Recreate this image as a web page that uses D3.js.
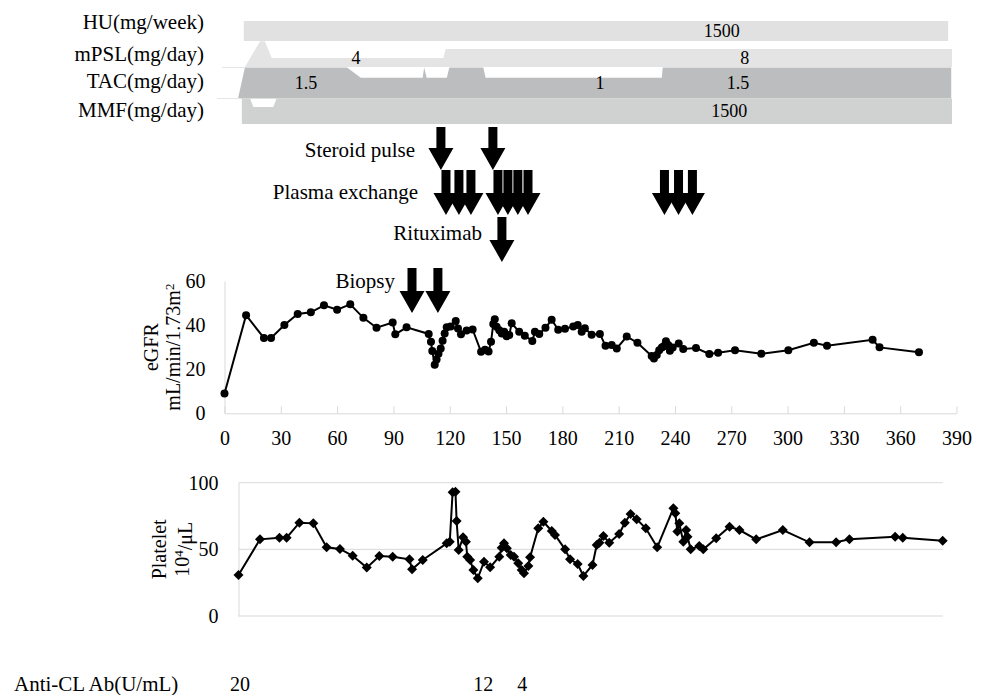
<!DOCTYPE html>
<html>
<head>
<meta charset="utf-8">
<script src="https://cdn.jsdelivr.net/npm/d3@7"></script>
<style>
  body { margin: 0; background: #fff; }
  text { font-family: "Liberation Serif", "Times New Roman", serif; fill: #000; }
</style>
</head>
<body>
<script>
// eGFR (mL/min/1.73m2) by day
let egfrDays = [0, 11.5, 21, 24.8, 31.9, 39, 46, 53, 60, 67, 74, 81, 89.6, 91, 97, 108.8, 110, 110.7, 112, 113,
  114, 115.2, 116.2, 117.3, 118.4, 120.5, 123.2, 124.4, 126, 129, 132.2, 136.7, 138.8, 140.7, 142, 143.2, 144, 145,
  146.4, 147.7, 149, 150.3, 151.7, 153, 157, 160, 164, 165.4, 167.7, 171, 174.3, 177.8, 181.4, 185.8, 188.2, 190.3,
  192, 195.6, 200, 203, 206.3, 209, 214.3, 220, 227.6, 228.8, 230.3, 231.6, 233, 234, 235.2, 236.4, 237.3, 238.8,
  242, 244.4, 251.2, 258.3, 263, 272, 286, 300.4, 314, 321, 345.3, 349, 370];
let egfrValues = [9, 44.5, 34.2, 34.2, 40, 45, 45.8, 49, 47, 49.4, 43.3, 38.8, 41.2, 35.8, 39, 36, 32.4, 28.3, 22, 24.4,
  27, 29.4, 32.9, 36.2, 39, 39.4, 41.9, 38.5, 35.8, 37.5, 38, 27.9, 28.8, 28, 32.4, 40.5, 42.6, 39.2,
  37.7, 36.2, 37, 35, 35.5, 40.8, 37, 35.2, 32.8, 37, 36, 38.8, 42.4, 37.9, 38.3, 39.4, 40, 37,
  38.6, 35.6, 36, 30.6, 31, 29.4, 34.8, 32, 26, 24.9, 26.4, 28.6, 29.8, 30.4, 32.7, 31, 28.4, 29.8,
  31.6, 29.2, 29.6, 26.9, 27.5, 28.6, 27, 28.6, 32, 30.6, 33.3, 29.9, 27.7];

// platelet (10^4/uL) by day
let plateletDays = [0, 11.3, 21.5, 25.3, 32, 39.3, 46.3, 53.3, 60, 67.4, 74, 81, 89.8, 91.2, 96.8, 109.4, 111, 112.5,
  114, 114.6, 115.7, 118, 119.5, 120.2, 121.7, 123.4, 125.7, 129, 132.2, 137, 138.3, 139.5, 141, 143, 144.8, 147,
  148.8, 150, 152.3, 153.2, 157.5, 160.2, 164.6, 166.3, 171.6, 174.2, 178.2, 181.2, 186, 188.2, 189.6, 191.7, 194.8,
  200, 203, 206, 209.2, 214, 220, 228.5, 229.5, 230.6, 231.6, 233.7, 235.2, 235.9, 237.6, 242.1, 244.2, 251, 258,
  263.2, 272, 286, 300, 314, 321, 345, 349, 370];
let plateletValues = [30.8, 57.5, 58.7, 58.7, 70, 69.5, 51.5, 50.3, 45.2, 36.3, 45, 44.5, 42.5, 35, 42, 54.5, 55.7, 92.8,
  93.3, 71.3, 49.5, 59, 55.7, 44.5, 42, 34.5, 28.3, 40.7, 36.5, 44.5, 51.2, 54.5, 50.8, 45.8, 44.5, 39.5,
  34.5, 32, 37.5, 44, 65.8, 70.7, 63.8, 60.8, 50, 42.5, 39, 30, 38.3, 53.3, 55, 60, 55,
  61.5, 70, 76.5, 72.5, 65.8, 51.5, 80.8, 77, 63.3, 69.5, 55.7, 64.5, 59.5, 50, 52.5, 50, 58.3, 67,
  64.5, 57.5, 64.5, 55.3, 55.3, 57.5, 59.5, 58.7, 56.5];

// drug doses (day, dose)
let drugNames = ["HU(mg/week)", "mPSL(mg/day)", "TAC(mg/day)", "MMF(mg/day)"];
let huDays = [3, 370];
let huDose = [1500, 1500];
let mpslDays = [3.6, 11.5, 14, 17.6, 107, 108.2, 372];
let mpslDose = [0, 11.5, 11.5, 4, 4, 8, 8];
let tacDays = [0, 3.6, 56.8, 64, 96.2, 97, 98.3, 108.8, 110.1, 127.8, 129, 220.8, 221.3, 371.6];
let tacDose = [0, 1.5, 1.5, 1, 1, 1.5, 1, 1, 1.5, 1.5, 1, 1, 1.5, 1.5];
let mmfDays = [2, 6.3, 8, 18.4, 20.1, 372];
let mmfDose = [1500, 1500, 1000, 1000, 1500, 1500];

let doseLabelText = ["1500", "4", "8", "1.5", "1", "1.5", "1500"];
let doseLabelDay = [252, 61.5, 264, 35.4, 188.6, 260.5, 256];
let doseLabelRow = [0, 1, 1, 2, 2, 2, 3];

// treatment events (day)
let steroidDays = [115.3, 143];
let plasmaDays = [118, 124.9, 131.3, 145.7, 151, 156.3, 161.7, 234.4, 241.9, 249.3];
let rituximabDays = [147.8];
let biopsyDays = [99.9, 113.7];

let antiClDays = [0.8, 128.6, 149.1];
let antiClValues = [20, 12, 4];

let xTicks = d3.range(0, 391, 30);
let egfrTicks = [0, 20, 40, 60];
let plateletTicks = [0, 50, 100];

let width = 986;
let height = 695;
let axisColor = "#d9d9d9";

let svg = d3.select("body").append("svg").attr("width", width).attr("height", height);

// ---------- drug bars ----------
let xTop = d3.scaleLinear().domain([0, 372]).range([238, 952]);
let rows = [
  { days: huDays, dose: huDose, max: 1500, top: 21, base: 41, color: "#e1e1e1", textY: 29 },
  { days: mpslDays, dose: mpslDose, max: 8, top: 49, base: 67, color: "#e4e4e4", textY: 61 },
  { days: tacDays, dose: tacDose, max: 1.5, top: 67.5, base: 98.5, color: "#bcbdbe", textY: 88 },
  { days: mmfDays, dose: mmfDose, max: 1500, top: 98.5, base: 124, color: "#d0d1d1", textY: 117 },
];

rows.forEach((r, i) => {
  let y = d3.scaleLinear().domain([0, r.max]).range([r.base, r.top]);
  let area = d3.area()
    .x((d) => xTop(d[0]))
    .y0(r.base)
    .y1((d) => y(d[1]));
  svg.append("path")
    .datum(r.days.map((d, j) => [d, r.dose[j]]))
    .attr("d", area)
    .attr("fill", r.color);
  svg.append("text")
    .attr("x", 204)
    .attr("y", r.textY)
    .attr("text-anchor", "end")
    .attr("font-size", "21px")
    .text(drugNames[i]);
});

// faint row lines on the left
svg.append("line").attr("x1", 222).attr("x2", 245).attr("y1", 67.5).attr("y2", 67.5)
  .attr("stroke", "#e6e6e6");
svg.append("line").attr("x1", 217).attr("x2", 240).attr("y1", 98.5).attr("y2", 98.5)
  .attr("stroke", "#e6e6e6");

svg.selectAll("text.dose")
  .data(doseLabelText)
  .enter()
  .append("text")
  .attr("class", "dose")
  .attr("x", (d, i) => xTop(doseLabelDay[i]))
  .attr("y", (d, i) => (rows[doseLabelRow[i]].top + rows[doseLabelRow[i]].base) / 2 + 6)
  .attr("text-anchor", "middle")
  .attr("font-size", "18px")
  .text((d) => d);

// ---------- eGFR chart ----------
let xE = d3.scaleLinear().domain([0, 390]).range([224.5, 956.5]);
let yE = d3.scaleLinear().domain([0, 60]).range([413.3, 281]);

// event arrows
let arrowPath = (cx, top, tip) => {
  let sw = 4.5, hw = 12.5, hh = 22;
  return `M${cx - sw},${top}H${cx + sw}V${tip - hh}H${cx + hw}L${cx},${tip}L${cx - hw},${tip - hh}H${cx - sw}Z`;
};
let events = [
  { days: steroidDays, top: 127, tip: 170, name: "Steroid pulse", lx: 415, ly: 157 },
  { days: plasmaDays, top: 170, tip: 215, name: "Plasma exchange", lx: 418, ly: 199 },
  { days: rituximabDays, top: 217, tip: 262, name: "Rituximab", lx: 482, ly: 240 },
  { days: biopsyDays, top: 268, tip: 313, name: "Biopsy", lx: 395, ly: 288 },
];
events.forEach((ev) => {
  svg.append("g")
    .selectAll("path")
    .data(ev.days)
    .enter()
    .append("path")
    .attr("d", (d) => arrowPath(xE(d), ev.top, ev.tip))
    .attr("fill", "#000");
  svg.append("text")
    .attr("x", ev.lx)
    .attr("y", ev.ly)
    .attr("text-anchor", "end")
    .attr("font-size", "21px")
    .text(ev.name);
});

let xAxisE = svg.append("g")
  .attr("transform", `translate(0,${yE(0)})`)
  .call(d3.axisBottom(xE).tickValues(xTicks).tickSizeInner(-7).tickSizeOuter(0).tickPadding(18));
xAxisE.select(".domain").attr("stroke", axisColor);
xAxisE.selectAll(".tick line").attr("stroke", axisColor);
xAxisE.selectAll("text").attr("font-size", "20px").attr("font-family", "Liberation Serif");

let yAxisE = svg.append("g")
  .attr("transform", `translate(${xE(0)},0)`)
  .call(d3.axisLeft(yE).tickValues(egfrTicks).tickSize(0).tickPadding(19));
yAxisE.select(".domain").attr("stroke", axisColor);
yAxisE.selectAll("text").attr("font-size", "20px").attr("font-family", "Liberation Serif");

let lineE = d3.line().x((d) => xE(d[0])).y((d) => yE(d[1]));
let egfrData = egfrDays.map((d, i) => [d, egfrValues[i]]);
svg.append("path")
  .datum(egfrData)
  .attr("d", lineE)
  .attr("fill", "none")
  .attr("stroke", "#000")
  .attr("stroke-width", 2);
svg.append("g")
  .selectAll("circle")
  .data(egfrData)
  .enter()
  .append("circle")
  .attr("cx", (d) => xE(d[0]))
  .attr("cy", (d) => yE(d[1]))
  .attr("r", 4)
  .attr("fill", "#000");

svg.append("text")
  .attr("transform", `translate(158,${(yE(0) + yE(60)) / 2}) rotate(-90)`)
  .attr("text-anchor", "middle")
  .attr("font-size", "20px")
  .text("eGFR");
let unitE = svg.append("text")
  .attr("transform", `translate(180,${(yE(0) + yE(60)) / 2}) rotate(-90)`)
  .attr("text-anchor", "middle")
  .attr("font-size", "20px");
unitE.append("tspan").text("mL/min/1.73m");
unitE.append("tspan").attr("dy", "-0.45em").attr("font-size", "13px").text("2");

// ---------- platelet chart ----------
let xP = d3.scaleLinear().domain([0, 370]).range([238.5, 942.7]);
let yP = d3.scaleLinear().domain([0, 100]).range([616, 482.7]);

svg.append("g")
  .selectAll("line")
  .data(plateletTicks)
  .enter()
  .append("line")
  .attr("x1", xP(0))
  .attr("x2", xP(370))
  .attr("y1", (d) => yP(d))
  .attr("y2", (d) => yP(d))
  .attr("stroke", axisColor);

let yAxisP = svg.append("g")
  .attr("transform", `translate(${xP(0)},0)`)
  .call(d3.axisLeft(yP).tickValues(plateletTicks).tickSize(0).tickPadding(20));
yAxisP.select(".domain").attr("stroke", axisColor);
yAxisP.selectAll("text").attr("font-size", "20px").attr("font-family", "Liberation Serif");

let lineP = d3.line().x((d) => xP(d[0])).y((d) => yP(d[1]));
let plateletData = plateletDays.map((d, i) => [d, plateletValues[i]]);
svg.append("path")
  .datum(plateletData)
  .attr("d", lineP)
  .attr("fill", "none")
  .attr("stroke", "#000")
  .attr("stroke-width", 2);
svg.append("g")
  .selectAll("path")
  .data(plateletData)
  .enter()
  .append("path")
  .attr("d", d3.symbol(d3.symbolSquare, 50))
  .attr("transform", (d) => `translate(${xP(d[0])},${yP(d[1])}) rotate(45)`)
  .attr("fill", "#000");

svg.append("text")
  .attr("transform", `translate(166,${yP(50)}) rotate(-90)`)
  .attr("text-anchor", "middle")
  .attr("font-size", "20px")
  .text("Platelet");
let unitP = svg.append("text")
  .attr("transform", `translate(189,${yP(50)}) rotate(-90)`)
  .attr("text-anchor", "middle")
  .attr("font-size", "20px");
unitP.append("tspan").text("10");
unitP.append("tspan").attr("dy", "-0.45em").attr("font-size", "13px").text("4");
unitP.append("tspan").attr("dy", "0.45em").text("/μL");

// ---------- anti-CL antibody ----------
svg.append("text")
  .attr("x", 14)
  .attr("y", 691)
  .attr("font-size", "21px")
  .text("Anti-CL Ab(U/mL)");
svg.selectAll("text.acl")
  .data(antiClValues)
  .enter()
  .append("text")
  .attr("class", "acl")
  .attr("x", (d, i) => xP(antiClDays[i]))
  .attr("y", 691)
  .attr("text-anchor", "middle")
  .attr("font-size", "20px")
  .text((d) => d);
</script>
</body>
</html>
